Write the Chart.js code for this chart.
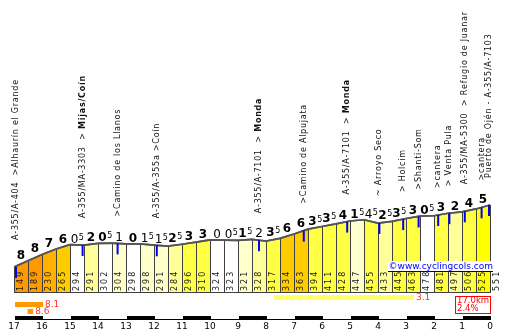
<!DOCTYPE html>
<html>
<head>
<meta charset="utf-8">
<script src="https://cdn.jsdelivr.net/npm/chart.js@4.4.1/dist/chart.umd.min.js"></script>
<style>
html,body{margin:0;padding:0;background:#fff;}
</style>
</head>
<body>
<canvas id="profile" width="506" height="333"></canvas>
<script>
// km still to ride, shown under the profile
var kmLabels = ['17','16','15','14','13','12','11','10','9','8','7','6','5','4','3','2','1','0'];
// altitude (m) every 500 m from the start
var altitudes = [149,189,230,265,294,291,302,304,298,298,291,284,296,310,324,323,321,328,317,334,363,394,411,428,447,455,433,445,463,478,481,497,506,525,551];
// gradient written over each 500 m piece
var grades = [8,8,7,6,0.5,2,0.5,1,0,1.5,1.5,2.5,3,3,0,0.5,1.5,2,3.5,6,6,3.5,3.5,4,1.5,4.5,2.5,3.5,3,0.5,3,2,4,5];
// pieces that go down
var downhill = [4,7,9,10,14,15,17,25];

// points of interest, km to go
var poiKm = [17,14.55,13.3,11.9,8.25,6.65,5.1,3.95,3.1,2.55,1.85,1.45,0.9,0.3,0];
var poiText = ['A-355/A-404  >Alhaurín el Grande','A-355/MA-3303  > ','>Camino de los Llanos','A-355/A-355a >Coín',
  'A-355/A-7101  > ','>Camino de Alpujata','A-355/A-7101  > ','~ Arroyo Seco','> Holcim','>Shanti-Som',
  '>cantera','> Venta Pula','A-355/MA-5300  > Refugio de Juanar','>cantera','Puerto de Ojén - A-355/A-7103'];
var poiBold = ['','Mijas/Coín','','','Monda','','Monda','','','','','','','',''];

// hardest sections, km from start
var sectionFrom = [0,0.45,9.25];
var sectionTo = [1,0.65,14.25];
var sectionGrade = ['8.1','8.6','3.1'];

var totalKm = '17.0km';
var avgGrade = '2.4%';

function gradeColor(g){
  g = Math.abs(g);
  if(g>=8) return '#ff9900';
  if(g>=7) return '#ffb000';
  if(g>=6) return '#ffcc00';
  if(g>=5) return '#ffff00';
  if(g>=3) return '#ffff44';
  if(g>=2) return '#ffff99';
  if(g>=1) return '#ffffcc';
  return '#ffffff';
}

function altAt(d){
  var i = Math.min(Math.floor(d/0.5), altitudes.length-2);
  var f = d/0.5 - i;
  return altitudes[i]*(1-f) + altitudes[i+1]*f;
}

// draw text one char at a time with some extra room between chars
function spaced(ctx, str, x, y, gap){
  for(var c=0;c<str.length;c++){
    ctx.fillText(str[c], x, y);
    x += ctx.measureText(str[c]).width + gap;
  }
  return x;
}

var points = altitudes.map(function(a,i){ return {x:i*0.5, y:a}; });

var decor = {
  id:'decor',
  afterDatasetsDraw: function(chart){
    var ctx = chart.ctx, xs = chart.scales.x, ys = chart.scales.y;
    var pts = chart.getDatasetMeta(0).data;
    var base = chart.chartArea.bottom;
    ctx.save();

    // column separators + bottom line
    ctx.strokeStyle = '#404040';
    ctx.lineWidth = 1;
    pts.forEach(function(p){
      var x = Math.round(p.x)+0.5;
      ctx.beginPath(); ctx.moveTo(x, base); ctx.lineTo(x, p.y); ctx.stroke();
    });
    ctx.beginPath(); ctx.moveTo(xs.left, base-0.5); ctx.lineTo(xs.right+1, base-0.5); ctx.stroke();

    // redraw the top line over the separators
    ctx.strokeStyle = '#555';
    ctx.lineWidth = 1.7;
    ctx.beginPath();
    pts.forEach(function(p,i){ if(i==0) ctx.moveTo(p.x,p.y); else ctx.lineTo(p.x,p.y); });
    ctx.stroke();

    // altitudes inside columns
    ctx.fillStyle = '#1a1a1a';
    ctx.font = '8px "DejaVu Sans"';
    ctx.textAlign = 'left';
    ctx.textBaseline = 'middle';
    altitudes.forEach(function(a,i){
      var cx = xs.getPixelForValue(i*0.5+0.25);
      ctx.save();
      ctx.translate(cx, base-2);
      ctx.rotate(-Math.PI/2);
      spaced(ctx, String(a), 0, 0, 2);
      ctx.restore();
    });

    // gradient over every piece
    ctx.textBaseline = 'alphabetic';
    grades.forEach(function(g,i){
      var cx = xs.getPixelForValue(i*0.5+0.25);
      var top = Math.min(pts[i].y, pts[i+1].y) - 2;
      var whole = String(Math.floor(g));
      var half = (g % 1) != 0;
      var down = downhill.indexOf(i) >= 0;
      var big = (down ? '' : 'bold ') + '12px "DejaVu Sans"';
      ctx.fillStyle = '#000';
      ctx.font = big;
      var w1 = ctx.measureText(whole).width;
      var w2 = 0;
      if(half){ ctx.font = '8px "DejaVu Sans"'; w2 = ctx.measureText('5').width; }
      var sx = cx - (w1+w2)/2;
      ctx.font = big;
      ctx.fillText(whole, sx, top);
      if(half){ ctx.font = '8px "DejaVu Sans"'; ctx.fillText('5', sx+w1+0.5, top-3); }
    });

    // blue markers + road labels
    poiKm.forEach(function(k,n){
      var d = 17 - k;
      var x = xs.getPixelForValue(d);
      var y = ys.getPixelForValue(altAt(d));
      var rx = Math.min(Math.max(x-1, xs.left+1), xs.right-2);
      ctx.fillStyle = '#0000ff';
      ctx.fillRect(rx, y, 2, 11);
      ctx.save();
      ctx.translate(rx+1, y-27);
      ctx.rotate(-Math.PI/2);
      ctx.fillStyle = '#111';
      ctx.textBaseline = 'middle';
      ctx.font = '8px "DejaVu Sans"';
      var px = spaced(ctx, poiText[n], 0, 0, 0.75);
      if(poiBold[n]){ ctx.font = 'bold 8px "DejaVu Sans"'; spaced(ctx, poiBold[n], px, 0, 0.75); }
      ctx.restore();
    });

    // watermark
    ctx.fillStyle = '#fff';
    ctx.fillRect(xs.right-102, base-32, 105, 11);
    ctx.fillStyle = '#0000ff';
    ctx.font = '9px "DejaVu Sans"';
    ctx.textAlign = 'right';
    ctx.textBaseline = 'alphabetic';
    ctx.fillText('©www.cyclingcols.com', xs.right+3, base-24);
    ctx.fillStyle = '#000080';
    ctx.fillRect(xs.right-102, base-22, 105, 1);

    // hardest sections under the profile
    var rows = [base+9, base+16, base+2];
    ctx.textAlign = 'left';
    ctx.textBaseline = 'middle';
    ctx.font = '9px "DejaVu Sans"';
    sectionGrade.forEach(function(s,n){
      var x0 = xs.getPixelForValue(sectionFrom[n]);
      var x1 = xs.getPixelForValue(sectionTo[n]);
      ctx.fillStyle = n==2 ? '#ffff66' : gradeColor(parseFloat(s));
      ctx.fillRect(x0+1, rows[n], x1-x0, 5);
      ctx.fillStyle = '#ff3333';
      ctx.fillText(s, x1+3, rows[n]+3);
    });

    // km scale bar
    ctx.fillStyle = '#000';
    ctx.fillRect(xs.left+1, base+23, xs.right-xs.left, 4);
    ctx.fillStyle = '#fff';
    for(var k=1;k<17;k+=2){
      var a = xs.getPixelForValue(k), b = xs.getPixelForValue(k+1);
      ctx.fillRect(a+1, base+23, b-a, 3);
    }

    // length / average box
    ctx.strokeStyle = '#ff0000';
    ctx.lineWidth = 1;
    ctx.strokeRect(xs.right-34.5, base+3.5, 35, 17);
    ctx.fillStyle = '#ff0000';
    ctx.font = '8.5px "DejaVu Sans"';
    ctx.fillText(totalKm, xs.right-33, base+8);
    ctx.fillText(avgGrade, xs.right-33, base+16);

    ctx.restore();
  }
};

new Chart('profile', {
  type:'line',
  data:{datasets:[{
    data:points,
    borderColor:'#555',
    borderWidth:1.7,
    backgroundColor:'#fff',
    pointRadius:0,
    tension:0,
    fill:'start',
    segment:{ backgroundColor: function(c){ return gradeColor(grades[c.p0DataIndex]); } }
  }]},
  options:{
    responsive:false,
    animation:false,
    devicePixelRatio:1,
    layout:{padding:{left:14,right:16,top:0,bottom:0}},
    plugins:{legend:{display:false},tooltip:{enabled:false}},
    scales:{
      x:{
        type:'linear', min:0, max:17,
        grid:{display:false, drawTicks:true, tickLength:25},
        border:{display:false},
        afterFit:function(s){ s.height = 40; },
        afterBuildTicks:function(s){ s.ticks = kmLabels.map(function(l,i){ return {value:i}; }); },
        ticks:{autoSkip:false, maxRotation:0, padding:3, color:'#000',
          font:{family:'DejaVu Sans', size:9},
          callback:function(v){ return kmLabels[v]; }}
      },
      y:{display:false, min:-20, max:1880}
    }
  },
  plugins:[decor]
});
</script>
</body>
</html>
